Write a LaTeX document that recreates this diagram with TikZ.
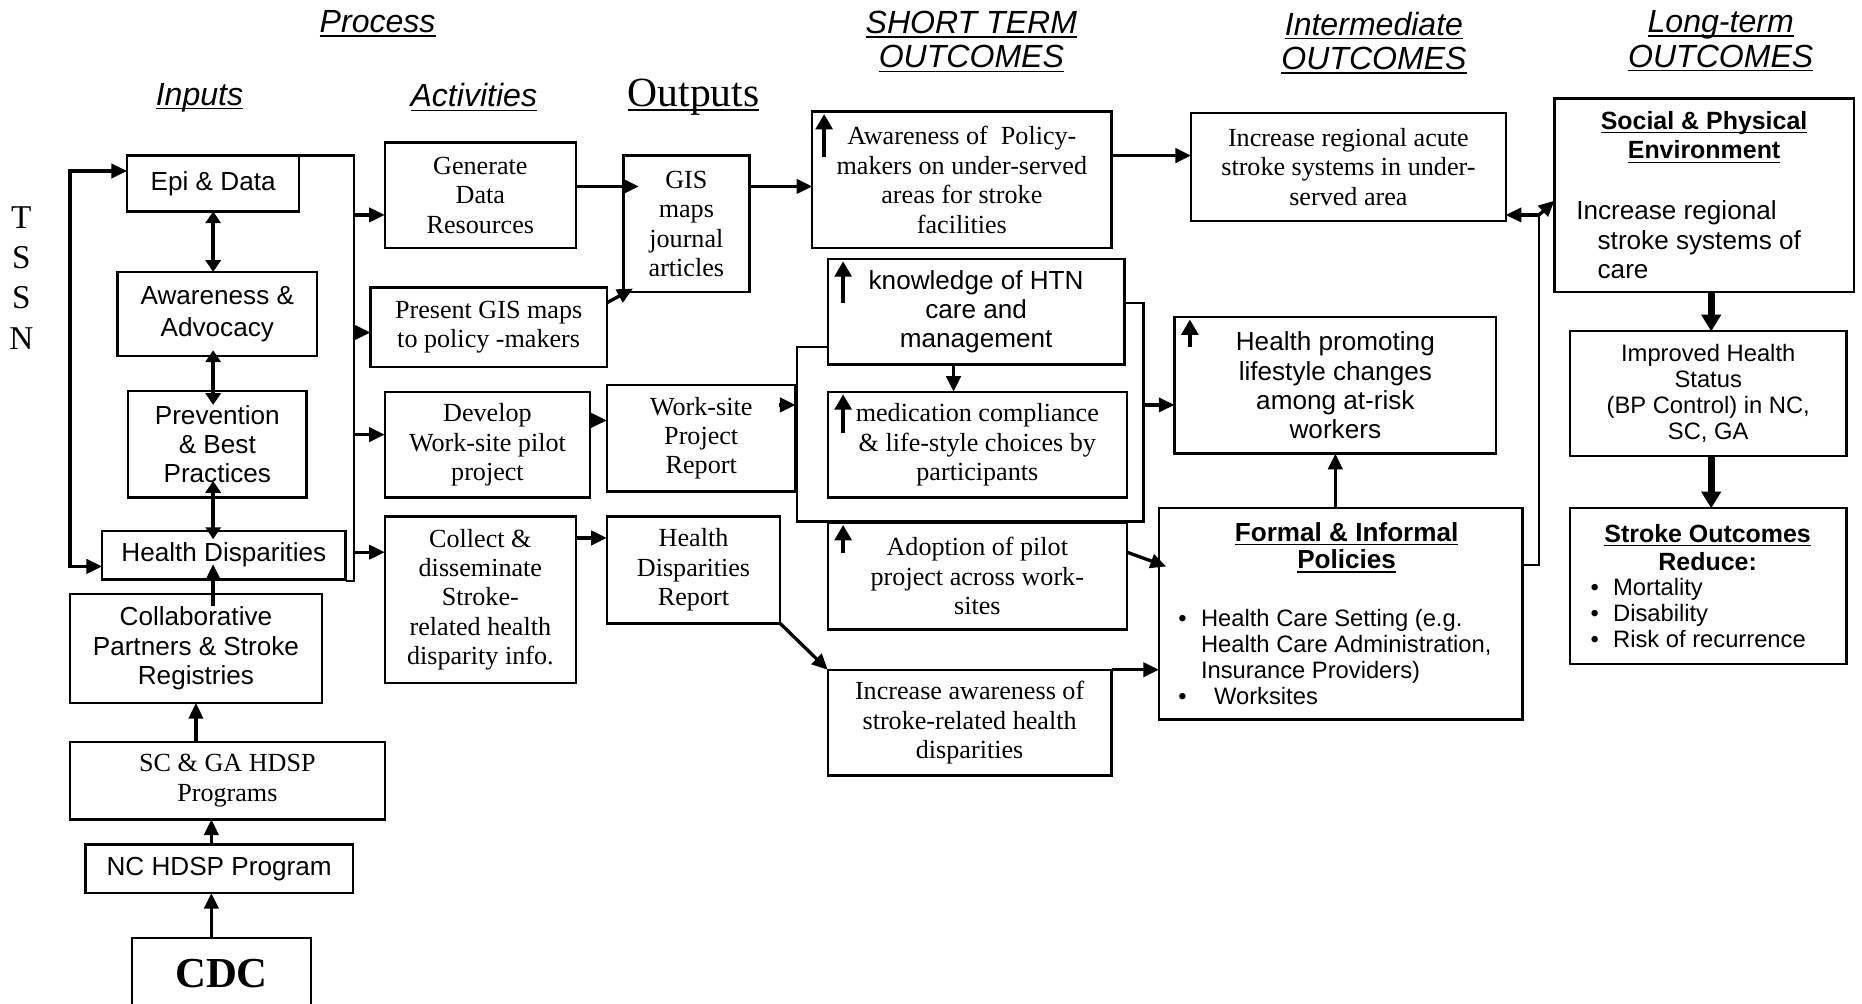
\documentclass[tikz,border=0pt]{standalone}
\usepackage{fontspec}
\setmainfont{Liberation Serif}
\setsansfont{Liberation Sans}
\usetikzlibrary{arrows.meta,calc}
\newcommand\ulx[2][1.8pt]{\setbox0\hbox{#2}\rlap{\rule[-#1]{\wd0}{0.65pt}}\box0}
\newcommand\bx[7][]{\node[box,minimum width={(#4-#2)*0.5pt},minimum height={(#5-#3)*0.5pt},#1] (#6) at ({(#2+#4)/2},{(#3+#5)/2}) {#7};}
\tikzset{
  box/.style={draw,line width=1pt,inner sep=0pt,outer sep=0pt,align=center,fill=white,font=\fontsize{11}{12.4}\selectfont\rmfamily},
  sans/.style={font=\fontsize{11}{12.3}\selectfont\sffamily},
  hdr/.style={font=\fontsize{13.5}{14.5}\selectfont\sffamily\itshape,align=center,inner sep=0pt},
  arr/.style={line width=1.4pt,-{Triangle[length=6.6pt,width=6pt]}},
  arrtwo/.style={line width=1.4pt,{Triangle[length=6.6pt,width=6pt]}-{Triangle[length=6.6pt,width=6pt]}},
  darr/.style={line width=1.4pt,{Triangle[length=5pt,width=6.4pt]}-{Triangle[length=5pt,width=6.4pt]}},
  uparr/.style={line width=1.8pt,-{Triangle[length=6.5pt,width=7pt]}},
  bigarr/.style={line width=3pt,-{Triangle[length=7pt,width=8pt]}},
  brk/.style={line width=1pt},
  txt/.style={inner sep=0pt},
}
\begin{document}
\begin{tikzpicture}[x=0.5pt,y=-0.5pt]
\useasboundingbox (0,0) rectangle (1568,845);
\fill[white] (0,0) rectangle (1568,845);
\clip (0,0) rectangle (1568,845);

% headers
\node[hdr] (hproc) at (318,20) {\ulx{Process}};
\node[hdr] (hin) at (168,82) {\ulx{Inputs}};
\node[hdr] (hact) at (399,82) {\ulx{Activities}};
\node[txt,font=\fontsize{17.5}{20}\selectfont\rmfamily] (hout) at (584,82) {\ulx{Outputs}};
\node[hdr] (hst) at (818,35) {\ulx{SHORT TERM}\\\ulx{OUTCOMES}};
\node[hdr] (him) at (1157,36) {\ulx{Intermediate}\\\ulx{OUTCOMES}};
\node[hdr] (hlt) at (1449,34.5) {\ulx{Long-term}\\\ulx{OUTCOMES}};
\node[txt,font=\fontsize{14}{17}\selectfont\rmfamily,align=center] (tssn) at (18,234) {T\\S\\S\\N};

% inputs
\bx[sans]{107}{131}{252}{178}{epi}{Epi \& Data}
\bx[font=\fontsize{11}{13.5}\selectfont\sffamily]{99}{229}{267}{300}{aw}{\rule{0pt}{4pt}Awareness \&\\Advocacy}
\bx[sans]{108}{329}{258}{419}{prev}{Prevention\\\& Best\\Practices}
\bx[sans]{86}{447}{291}{488}{hd}{Health Disparities}
\bx[sans]{59}{500}{271}{592}{collab}{Collaborative\\Partners \& Stroke\\Registries}
\bx{59}{625}{324}{690}{scga}{SC \& GA HDSP\\Programs}
\bx[sans]{72}{711}{297}{752}{nc}{NC HDSP Program}
\bx[font=\fontsize{18}{20}\selectfont\rmfamily\bfseries]{111}{790}{262}{850}{cdc}{CDC}

% activities
\bx{324}{120}{485}{209}{gen}{Generate\\Data\\Resources}
\bx{312}{242}{511}{309}{pres}{Present GIS maps\\to policy -makers}
\bx{324}{330}{497}{419}{dev}{Develop\\Work-site pilot\\project}
\bx{324}{435}{485}{575}{col}{Collect \&\\disseminate\\Stroke-\\related health\\disparity info.}

% outputs
\bx{525}{131}{631}{246}{gis}{GIS\\maps\\journal\\articles}
\bx{511}{324}{670}{414}{wsr}{Work-site\\Project\\Report}
\bx{511}{435}{657}{525}{hdr}{Health\\Disparities\\Report}

% short term
\bx{684}{94}{936}{209}{apm}{Awareness of\ \ Policy-\\makers on under-served\\areas for stroke\\facilities}
\bx[sans]{697}{218}{947}{307}{know}{knowledge of HTN\\care and\\management}
\bx{697}{330}{949}{419}{med}{medication compliance\\\& life-style choices by\\participants}
\bx{697}{440}{949}{530}{adopt}{Adoption of pilot\\project across work-\\sites}
\bx{697}{564}{936}{653}{ia}{Increase awareness of\\stroke-related health\\disparities}

% intermediate
\bx{1003}{95}{1268}{186}{iras}{Increase regional acute\\stroke systems in under-\\served area}
\bx[sans]{989}{267}{1260}{382}{hp}{Health promoting\\lifestyle changes\\among at-risk\\workers}
\bx{976}{428}{1282}{606}{formal}{}
\node[txt,font=\fontsize{11}{11.5}\selectfont\sffamily\bfseries,align=center] (formalt) at (1134,461) {\ulx{Formal \& Informal}\\\ulx{Policies}};
\node[txt,font=\fontsize{10}{11}\selectfont\sffamily,anchor=west] (formalb) at (992,556) {\begin{tabular}{@{}l@{\hspace{6pt}}l@{}}•&Health Care Setting (e.g.\\&Health Care Administration,\\&Insurance Providers)\\•&\hspace{5.5pt}Worksites\end{tabular}};

% long term
\bx{1309}{83}{1561}{246}{social}{}
\node[txt,font=\fontsize{10.5}{12.5}\selectfont\sffamily\bfseries,align=center] (socialt) at (1435,115.5) {\ulx{Social \& Physical}\\\ulx{Environment}};
\node[txt,font=\fontsize{11}{12.5}\selectfont\sffamily,align=left,anchor=west] (socialb) at (1327,202) {Increase regional\\\hspace{9pt}stroke systems of\\\hspace{9pt}care};
\bx[font=\fontsize{10}{11}\selectfont\sffamily]{1322}{279}{1555}{384}{ihs}{Improved Health\\Status\\(BP Control) in NC,\\SC, GA}
\bx{1322}{428}{1555}{559}{so}{}
\node[txt,font=\fontsize{10.5}{12}\selectfont\sffamily\bfseries,align=center] (sot) at (1438,461) {\ulx{Stroke Outcomes}\\Reduce:};
\node[txt,font=\fontsize{10}{11}\selectfont\sffamily,anchor=west] (sob) at (1339,519) {\begin{tabular}{@{}l@{\hspace{6pt}}l@{}}•&Mortality\\•&Disability\\•&Risk of recurrence\end{tabular}};

% ---- connectors ----
\coordinate (t1) at (59,144);
\coordinate (t2) at (59,477);
\draw[arrtwo] (epi.west |- t1) -- (t1) -- (t2) -- (hd.west |- t2);

\coordinate (ib1) at (298,131);
\coordinate (ib2) at (298,489);
\draw[brk] (epi.north east) -- (ib1) -- (ib2) -- (hd.south east |- ib2);
\draw[arr] (ib1 |- 0,181) -- (gen.west |- 0,181);
\draw[arr] (ib1 |- 0,280) -- (pres.west |- 0,280);
\draw[arr] (ib1 |- 0,366) -- (dev.west |- 0,366);
\draw[arr] (ib1 |- 0,465) -- (col.west |- 0,465);

\draw[darr] (epi.south) -- (aw.north -| epi.south);
\draw[darr] ($(aw.south -| epi.south)+(0,-5)$) -- ($(prev.north -| epi.south)+(0,12)$);
\draw[darr] ($(prev.south -| epi.south)+(0,-14)$) -- ($(hd.north -| epi.south)+(0,7)$);
\draw[arr] ($(collab.north -| epi.south)+(0,10)$) -- ($(hd.south -| epi.south)+(0,-13)$);
\draw[arr] (scga.north -| collab.north) -- (collab.south);
\draw[arr] (178,0 |- nc.north) -- (178,0 |- scga.south);
\draw[arr] (178,0 |- cdc.north) -- (178,0 |- nc.south);

\draw[arr] (gen.east |- 0,157) -- ($(gis.west |- 0,157)+(13,0)$);
\draw[arr] ($(pres.north east)+(0,13)$) -- ($(gis.south west)+(8,-3)$);
\draw[arr] (dev.east |- 0,354) -- (wsr.west |- 0,354);
\draw[arr] (col.east |- 0,453) -- (hdr.west |- 0,453);

\draw[arr] (gis.east |- 0,157) -- (apm.west |- 0,157);
\coordinate (kb1) at (671,292);
\coordinate (kb2) at (671,439);
\coordinate (kb3) at (963,439);
\coordinate (kb4) at (963,255);
\draw[brk] (know.west |- kb1) -- (kb1) -- (kb2) -- (kb3) -- (kb4) -- (know.east |- kb4);
\draw[arr] ($(wsr.east |- 0,341)+(-14,0)$) -- (wsr.east |- 0,341);
\draw[arr] (803,0 |- know.south) -- (803,0 |- med.north);

\draw[arr] (apm.east |- 0,131) -- (iras.west |- 0,131);
\draw[arr] (kb3 |- 0,341) -- (hp.west |- 0,341);
\draw[arr] (adopt.east |- 0,465) -- ($(formal.west |- 0,477)+(6,0)$);
\draw[arr] (hdr.south east) -- (ia.north west);
\draw[arr] (ia.north east) -- (formal.west |- ia.north east);
\draw[arr] (hp.south |- formal.north) -- (hp.south);

\coordinate (jn) at (1296,181);
\draw[brk] (formal.east |- 0,476) -| (jn);
\draw[arr] (jn) -- (iras.east |- jn);
\draw[arr] (jn) -- (social.west |- 0,169);

\draw[bigarr] (1441,0 |- social.south) -- (1441,0 |- ihs.north);
\draw[bigarr] (1441,0 |- ihs.south) -- (1441,0 |- so.north);

% small up arrows inside boxes
\draw[uparr] ($(apm.north west)+(10,38)$) -- ($(apm.north west)+(10,2)$);
\draw[uparr] ($(know.north west)+(13,37)$) -- ($(know.north west)+(13,2)$);
\draw[uparr] ($(med.north west)+(13,35)$) -- ($(med.north west)+(13,2)$);
\draw[uparr] ($(adopt.north west)+(13,26)$) -- ($(adopt.north west)+(13,2)$);
\draw[uparr] ($(hp.north west)+(13,25)$) -- ($(hp.north west)+(13,2)$);
\end{tikzpicture}
\end{document}
